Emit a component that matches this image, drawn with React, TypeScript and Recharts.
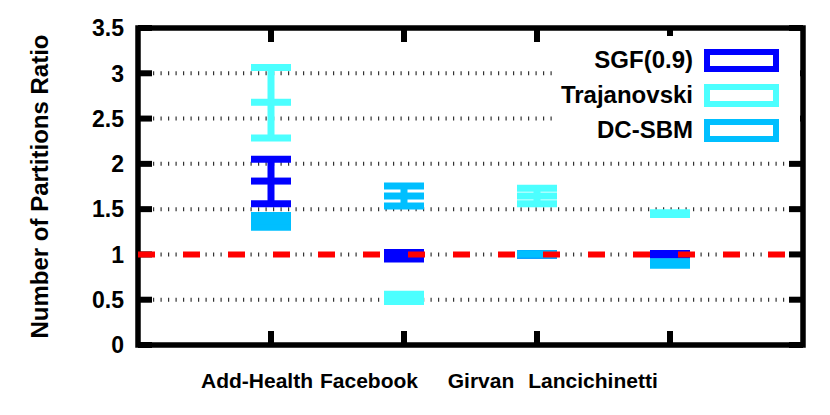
import {
  ComposedChart,
  Scatter,
  ErrorBar,
  XAxis,
  YAxis,
  CartesianGrid,
  ReferenceLine,
  ReferenceArea,
} from 'recharts';

const categories = ['Add-Health', 'Facebook', 'Girvan', 'Lancichinetti'];
const positions = [1, 2, 3, 4];
// gnuplot put the labels a bit left of their tics
const labelShift = [-14, -35, -56, -77];
const yTicks = [0, 0.5, 1, 1.5, 2, 2.5, 3, 3.5];

const sgfMin = [1.56, 0.95, 0.99, 0.99];
const sgfMean = [1.81, 0.985, 1.0, 1.0];
const sgfMax = [2.05, 1.02, 1.01, 1.01];

const trajMin = [2.285, 0.48, 1.56, 1.44];
const trajMean = [2.68, 0.52, 1.645, 1.45];
const trajMax = [3.065, 0.56, 1.73, 1.46];

const dcMin = [1.3, 1.535, 0.99, 0.88];
const dcMean = [1.366, 1.645, 1.0, 0.9];
const dcMax = [1.43, 1.755, 1.01, 0.92];

const baseline = 1;
const xRange = [0, 5];
const yRange = [0, 3.5];

const series = [
  { name: 'SGF(0.9)', color: '#0000ff', min: sgfMin, mean: sgfMean, max: sgfMax },
  { name: 'Trajanovski', color: '#4cffff', min: trajMin, mean: trajMean, max: trajMax },
  { name: 'DC-SBM', color: '#00bfff', min: dcMin, mean: dcMean, max: dcMax },
];

const toRows = (s: (typeof series)[number]) =>
  positions.map((x, i) => ({
    x,
    y: s.mean[i],
    err: [s.mean[i] - s.min[i], s.max[i] - s.mean[i]],
  }));

const baselineRows = xRange.map((x) => ({ x, y: baseline }));

const W = 830;
const H = 415;
const PLOT = { left: 138, right: 803, top: 28, bottom: 345 };
const FONT = '"Liberation Sans", Arial, sans-serif';
const TIC = 14;
const LW = 7;

const XTick = (props: any) => {
  const { x, y, payload } = props;
  const i = positions.indexOf(payload.value);
  return (
    <g>
      <line x1={x} x2={x} y1={PLOT.bottom} y2={PLOT.bottom - TIC} stroke="#000" strokeWidth={6} />
      <line x1={x} x2={x} y1={PLOT.top} y2={PLOT.top + TIC} stroke="#000" strokeWidth={6} />
      <text
        x={x + (labelShift[i] ?? 0)}
        y={y + 43}
        textAnchor="middle"
        fontFamily={FONT}
        fontWeight="bold"
        fontSize={21}
        fill="#000"
      >
        {categories[i]}
      </text>
    </g>
  );
};

const YTick = (props: any) => {
  const { x, y, payload } = props;
  return (
    <g>
      <line x1={PLOT.left} x2={PLOT.left + TIC} y1={y} y2={y} stroke="#000" strokeWidth={6} />
      <line x1={PLOT.right} x2={PLOT.right - TIC} y1={y} y2={y} stroke="#000" strokeWidth={6} />
      <text
        x={x}
        y={y}
        dy="0.36em"
        textAnchor="end"
        fontFamily={FONT}
        fontWeight="bold"
        fontSize={23}
        fill="#000"
      >
        {payload.value}
      </text>
    </g>
  );
};

const Legend = () => (
  <div
    style={{
      position: 'absolute',
      left: 552,
      top: 36,
      width: 248,
      height: 114,
      background: '#fff',
      fontFamily: FONT,
      fontWeight: 'bold',
      fontSize: 24,
    }}
  >
    {series.map((s, i) => (
      <div key={s.name}>
        <div
          style={{
            position: 'absolute',
            left: 0,
            width: 141,
            top: 24 + i * 35 - 14,
            height: 28,
            lineHeight: '28px',
            textAlign: 'right',
          }}
        >
          {s.name}
        </div>
        <div
          style={{
            position: 'absolute',
            left: 152,
            top: 24 + i * 35 - 11.5,
            width: 75,
            height: 23,
            boxSizing: 'border-box',
            border: `6.5px solid ${s.color}`,
            background: '#fff',
          }}
        />
      </div>
    ))}
  </div>
);

// second, transparent chart on top: baseline and frame over the candlesticks
const Overlay = () => (
  <div style={{ position: 'absolute', left: 0, top: 0, width: W, height: H }}>
    <ComposedChart
      width={W}
      height={H}
      data={baselineRows}
      margin={{ top: PLOT.top, right: W - PLOT.right, bottom: 0, left: 0 }}
    >
      <XAxis
        type="number"
        dataKey="x"
        domain={xRange}
        allowDataOverflow
        height={H - PLOT.bottom}
        axisLine={false}
        tickLine={false}
        tick={false}
      />
      <YAxis
        type="number"
        domain={yRange}
        allowDataOverflow
        width={PLOT.left}
        axisLine={false}
        tickLine={false}
        tick={false}
      />
      <ReferenceLine y={baseline} stroke="#ff0000" strokeWidth={6} strokeDasharray="17 28" />
      <ReferenceArea
        x1={xRange[0]}
        x2={xRange[1]}
        y1={yRange[0]}
        y2={yRange[1]}
        fill="none"
        stroke="#000"
        strokeWidth={5.5}
      />
    </ComposedChart>
  </div>
);

export default function App() {
  return (
    <div style={{ position: 'absolute', left: 0, top: 0, width: W, height: H, background: '#fff' }}>
      <div style={{ position: 'absolute', left: 0, top: 0, width: W, height: H }}>
        <ComposedChart
          width={W}
          height={H}
          margin={{ top: PLOT.top, right: W - PLOT.right, bottom: 0, left: 0 }}
        >
          <CartesianGrid vertical={false} stroke="#333" strokeWidth={4} strokeDasharray="1.2 6.3" />
          <XAxis
            type="number"
            dataKey="x"
            domain={xRange}
            ticks={positions}
            interval={0}
            allowDataOverflow
            height={H - PLOT.bottom}
            axisLine={false}
            tickLine={false}
            tickSize={0}
            tickMargin={0}
            tick={<XTick />}
          />
          <YAxis
            type="number"
            domain={yRange}
            ticks={yTicks}
            interval={0}
            allowDataOverflow
            width={PLOT.left}
            axisLine={false}
            tickLine={false}
            tickSize={0}
            tickMargin={14}
            tick={<YTick />}
            label={{
              content: () => (
                <text
                  transform={`translate(39,${(PLOT.top + PLOT.bottom) / 2}) rotate(-90)`}
                  dy="0.36em"
                  textAnchor="middle"
                  fontFamily={FONT}
                  fontWeight="bold"
                  fontSize={24}
                  fill="#000"
                >
                  Number of Partitions Ratio
                </text>
              ),
            }}
          />
          {series.map((s) => (
            <Scatter
              key={s.name}
              name={s.name}
              data={toRows(s)}
              dataKey="y"
              fill={s.color}
              isAnimationActive={false}
              shape={(p: any) => (
                <rect x={p.cx - 20} y={p.cy - LW / 2} width={40} height={LW} fill={s.color} />
              )}
            >
              <ErrorBar dataKey="err" direction="y" width={20} stroke={s.color} strokeWidth={LW} isAnimationActive={false} />
            </Scatter>
          ))}
        </ComposedChart>
      </div>
      <Overlay />
      <Legend />
    </div>
  );
}
